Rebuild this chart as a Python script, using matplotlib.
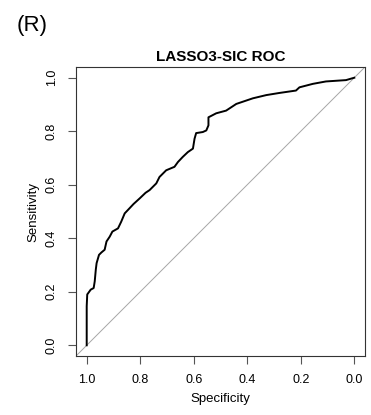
import matplotlib
matplotlib.use('Agg')
import matplotlib.pyplot as plt

plt.rcParams['font.family'] = ['Liberation Sans', 'DejaVu Sans']

# ROC curve (specificity decreasing, sensitivity increasing)
specificity = [1.0, 1.0, 0.998, 0.985, 0.974, 0.970, 0.966, 0.963, 0.954, 0.945,
               0.933, 0.926, 0.914, 0.904, 0.883, 0.871, 0.858, 0.840, 0.825, 0.802,
               0.780, 0.765, 0.740, 0.728, 0.703, 0.672, 0.659, 0.641, 0.622, 0.603,
               0.597, 0.591, 0.566, 0.553, 0.545, 0.545, 0.516, 0.479, 0.441, 0.379,
               0.329, 0.280, 0.218, 0.205, 0.155, 0.106, 0.031, 0.0]
sensitivity = [0.0, 0.146, 0.19, 0.208, 0.214, 0.239, 0.283, 0.307, 0.338, 0.347,
               0.357, 0.388, 0.406, 0.425, 0.437, 0.462, 0.493, 0.512, 0.528, 0.549,
               0.570, 0.580, 0.605, 0.629, 0.654, 0.667, 0.685, 0.704, 0.722, 0.735,
               0.772, 0.793, 0.797, 0.803, 0.822, 0.852, 0.867, 0.877, 0.902, 0.923,
               0.935, 0.943, 0.952, 0.964, 0.977, 0.986, 0.991, 1.0]
ticks = [0.0, 0.2, 0.4, 0.6, 0.8, 1.0]
tick_labels = ['0.0', '0.2', '0.4', '0.6', '0.8', '1.0']

W, H = 371, 415
fig = plt.figure(figsize=(W / 100, H / 100), dpi=100)
ax = fig.add_axes([76 / W, 1 - 356 / H, 289 / W, 289 / H])

# chance line across the whole plot region
ax.axline((1, 0), (0, 1), color='#a6a6a6', lw=0.7, zorder=1)
ax.plot(specificity, sensitivity, color='black', lw=1.4, zorder=2)

ax.set_xlim(1.04, -0.04)
ax.set_ylim(-0.04, 1.04)
ax.set_xticks(ticks)
ax.set_xticklabels(tick_labels)
ax.set_yticks(ticks)
ax.set_yticklabels(tick_labels, rotation=90, va='center')

for s in ax.spines.values():
    s.set_color('#333333')
    s.set_linewidth(0.8)
ax.tick_params(length=6, width=0.8, color='#555555', labelsize=9, pad=7)

ax.set_xlabel('Specificity', fontsize=9.5, labelpad=5)
ax.set_ylabel('Sensitivity', fontsize=9.5, labelpad=5)
ax.set_title('LASSO3-SIC ROC', fontsize=11, fontweight='bold', pad=4)

fig.text(17 / W, 1 - 31 / H, '(R)', fontsize=16, va='baseline', ha='left')

fig.savefig('out.png', dpi=100)
